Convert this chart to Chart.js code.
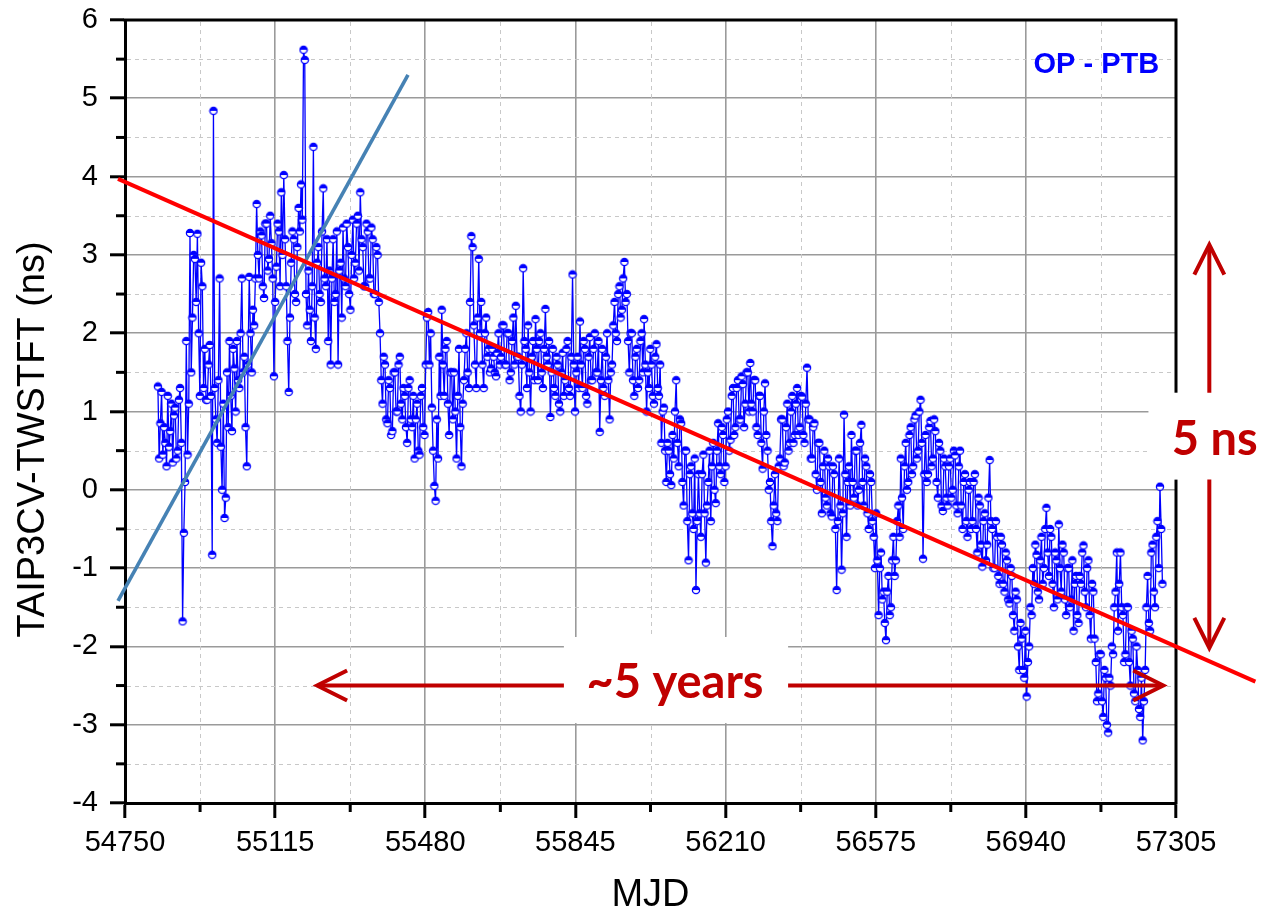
<!DOCTYPE html>
<html>
<head>
<meta charset="utf-8">
<script src="https://cdn.jsdelivr.net/npm/chart.js@4.4.1/dist/chart.umd.min.js"></script>
<style>
  html,body{margin:0;padding:0;background:#fff;}
  #wrap{width:1263px;height:919px;position:relative;}
</style>
</head>
<body>
<div id="wrap"><canvas id="c"></canvas></div>
<script>
// ---------------- data ----------------
const mjd = [
54830,54833,54836,54839,54842,54845,54848,54851,54854,54857,54860,54863,54866,54869,54872,54875,54878,54881,54884,54887,
54890,54893,54896,54899,54902,54905,54908,54911,54914,54917,54920,54923,54926,54929,54932,54935,54938,54941,54944,54947,
54950,54953,54956,54959,54962,54965,54968,54971,54974,54977,54980,54983,54986,54989,54992,54995,54998,55001,55004,55007,
55010,55013,55016,55019,55022,55025,55028,55031,55034,55037,55040,55043,55046,55049,55052,55055,55058,55061,55064,55067,
55070,55073,55076,55079,55082,55085,55088,55091,55094,55097,55100,55103,55106,55109,55112,55115,55118,55121,55124,55127,
55130,55133,55136,55139,55142,55145,55148,55151,55154,55157,55160,55163,55166,55169,55172,55175,55178,55181,55184,55187,
55190,55193,55196,55199,55202,55205,55208,55211,55214,55217,55220,55223,55226,55229,55232,55235,55238,55241,55244,55247,
55250,55253,55256,55259,55262,55265,55268,55271,55274,55277,55280,55283,55286,55289,55292,55295,55298,55301,55304,55307,
55310,55313,55316,55319,55322,55325,55328,55331,55334,55337,55340,55343,55346,55349,55352,55355,55358,55361,55364,55367,
55370,55373,55376,55379,55382,55385,55388,55391,55394,55397,55400,55403,55406,55409,55412,55415,55418,55421,55424,55427,
55430,55433,55436,55439,55442,55445,55448,55451,55454,55457,55460,55463,55466,55469,55472,55475,55478,55481,55484,55487,
55490,55493,55496,55499,55502,55505,55508,55511,55514,55517,55520,55523,55526,55529,55532,55535,55538,55541,55544,55547,
55550,55553,55556,55559,55562,55565,55568,55571,55574,55577,55580,55583,55586,55589,55592,55595,55598,55601,55604,55607,
55610,55613,55616,55619,55622,55625,55628,55631,55634,55637,55640,55643,55646,55649,55652,55655,55658,55661,55664,55667,
55670,55673,55676,55679,55682,55685,55688,55691,55694,55697,55700,55703,55706,55709,55712,55715,55718,55721,55724,55727,
55730,55733,55736,55739,55742,55745,55748,55751,55754,55757,55760,55763,55766,55769,55772,55775,55778,55781,55784,55787,
55790,55793,55796,55799,55802,55805,55808,55811,55814,55817,55820,55823,55826,55829,55832,55835,55838,55841,55844,55847,
55850,55853,55856,55859,55862,55865,55868,55871,55874,55877,55880,55883,55886,55889,55892,55895,55898,55901,55904,55907,
55910,55913,55916,55919,55922,55925,55928,55931,55934,55937,55940,55943,55946,55949,55952,55955,55958,55961,55964,55967,
55970,55973,55976,55979,55982,55985,55988,55991,55994,55997,56000,56003,56006,56009,56012,56015,56018,56021,56024,56027,
56030,56033,56036,56039,56042,56045,56048,56051,56054,56057,56060,56063,56066,56069,56072,56075,56078,56081,56084,56087,
56090,56093,56096,56099,56102,56105,56108,56111,56114,56117,56120,56123,56126,56129,56132,56135,56138,56141,56144,56147,
56150,56153,56156,56159,56162,56165,56168,56171,56174,56177,56180,56183,56186,56189,56192,56195,56198,56201,56204,56207,
56210,56213,56216,56219,56222,56225,56228,56231,56234,56237,56240,56243,56246,56249,56252,56255,56258,56261,56264,56267,
56270,56273,56276,56279,56282,56285,56288,56291,56294,56297,56300,56303,56306,56309,56312,56315,56318,56321,56324,56327,
56330,56333,56336,56339,56342,56345,56348,56351,56354,56357,56360,56363,56366,56369,56372,56375,56378,56381,56384,56387,
56390,56393,56396,56399,56402,56405,56408,56411,56414,56417,56420,56423,56426,56429,56432,56435,56438,56441,56444,56447,
56450,56453,56456,56459,56462,56465,56468,56471,56474,56477,56480,56483,56486,56489,56492,56495,56498,56501,56504,56507,
56510,56513,56516,56519,56522,56525,56528,56531,56534,56537,56540,56543,56546,56549,56552,56555,56558,56561,56564,56567,
56570,56573,56576,56579,56582,56585,56588,56591,56594,56597,56600,56603,56606,56609,56612,56615,56618,56621,56624,56627,
56630,56633,56636,56639,56642,56645,56648,56651,56654,56657,56660,56663,56666,56669,56672,56675,56678,56681,56684,56687,
56690,56693,56696,56699,56702,56705,56708,56711,56714,56717,56720,56723,56726,56729,56732,56735,56738,56741,56744,56747,
56750,56753,56756,56759,56762,56765,56768,56771,56774,56777,56780,56783,56786,56789,56792,56795,56798,56801,56804,56807,
56810,56813,56816,56819,56822,56825,56828,56831,56834,56837,56840,56843,56846,56849,56852,56855,56858,56861,56864,56867,
56870,56873,56876,56879,56882,56885,56888,56891,56894,56897,56900,56903,56906,56909,56912,56915,56918,56921,56924,56927,
56930,56933,56936,56939,56942,56945,56948,56951,56954,56957,56960,56963,56966,56969,56972,56975,56978,56981,56984,56987,
56990,56993,56996,56999,57002,57005,57008,57011,57014,57017,57020,57023,57026,57029,57032,57035,57038,57041,57044,57047,
57050,57053,57056,57059,57062,57065,57068,57071,57074,57077,57080,57083,57086,57089,57092,57095,57098,57101,57104,57107,
57110,57113,57116,57119,57122,57125,57128,57131,57134,57137,57140,57143,57146,57149,57152,57155,57158,57161,57164,57167,
57170,57173,57176,57179,57182,57185,57188,57191,57194,57197,57200,57203,57206,57209,57212,57215,57218,57221,57224,57227,
57230,57233,57236,57239,57242,57245,57248,57251,57254,57257,57260,57263,57266,57269,57272
];
const diffNs = [
1.32,0.40,0.85,1.25,0.45,0.80,0.60,0.30,1.20,0.55,0.75,1.10,0.35,0.95,1.05,0.40,0.50,1.15,1.30,0.60,
-1.68,-0.55,0.10,1.90,0.45,1.10,3.28,1.50,2.20,3.00,2.95,2.40,3.27,2.00,1.20,2.90,2.60,1.30,1.80,1.15,
1.15,1.60,1.85,1.20,-0.83,4.84,1.30,0.90,0.60,1.40,2.70,0.55,0.00,1.10,-0.36,-0.10,1.50,0.80,1.90,1.20,
0.75,1.80,1.55,1.00,1.90,1.40,1.30,2.00,2.70,1.50,1.70,0.80,0.30,1.60,2.72,2.00,1.50,2.30,2.10,2.70,
3.65,3.00,2.70,3.30,3.25,2.60,2.45,3.40,3.40,2.80,2.95,3.50,3.15,2.70,1.45,2.40,2.85,3.40,3.30,2.60,
3.80,3.00,4.02,3.20,2.60,1.90,1.25,2.20,2.90,3.30,3.20,2.50,2.40,3.10,3.60,3.30,3.90,3.45,5.62,5.49,
2.50,2.10,2.80,2.30,1.90,2.60,4.38,2.20,1.80,2.90,3.10,2.50,2.40,3.30,3.85,2.70,2.60,3.20,1.90,2.80,
1.60,2.70,3.20,2.40,2.50,3.30,1.60,2.80,2.90,2.20,3.35,2.70,2.60,3.40,3.10,2.50,2.30,3.00,3.45,2.70,
2.90,3.40,3.50,2.80,3.80,3.20,3.10,2.60,2.60,3.40,3.30,2.70,2.70,3.35,3.20,2.50,2.50,3.10,3.00,2.40,
2.00,1.40,1.10,1.70,1.60,0.90,0.85,1.40,1.30,0.70,0.75,1.50,1.50,1.00,1.00,1.60,1.70,1.10,0.90,1.30,
1.20,0.80,0.60,1.30,1.40,0.90,0.80,1.20,0.40,0.90,1.10,0.50,0.45,1.20,1.30,0.80,0.70,1.60,2.20,2.27,
1.60,2.00,1.05,0.50,0.05,-0.14,0.90,0.40,1.70,1.20,2.30,1.60,1.20,1.80,1.90,1.10,0.70,1.50,1.50,0.90,
1.50,1.00,0.40,1.20,1.80,0.80,0.30,1.10,1.40,1.80,2.00,1.50,1.30,2.40,3.24,3.10,2.10,1.60,1.30,2.20,
2.95,2.00,2.40,1.60,1.30,2.00,2.20,1.70,1.80,1.50,1.55,1.80,1.70,1.50,1.45,1.75,2.00,1.60,1.70,2.10,
2.10,1.60,1.60,2.00,2.00,1.40,1.50,1.90,2.20,1.60,2.35,1.70,1.70,1.20,1.00,1.60,2.83,1.90,1.80,1.30,
2.10,1.50,1.00,1.70,1.90,1.40,2.18,1.80,1.40,1.90,2.00,1.50,1.30,1.80,2.31,1.70,1.60,1.90,0.93,1.50,
1.80,1.30,1.20,1.70,1.60,1.10,1.00,1.50,1.75,1.20,1.40,1.80,1.90,1.30,1.20,1.70,2.75,1.60,1.00,1.50,
1.70,1.30,2.15,1.60,1.30,1.90,1.80,1.20,1.10,1.70,1.95,1.40,1.40,1.80,2.00,1.50,1.50,1.90,0.74,1.40,
1.80,1.30,1.20,1.70,2.00,1.40,0.90,1.50,1.60,2.10,2.40,2.00,1.90,2.50,2.60,2.20,2.30,2.70,2.91,2.40,
2.50,1.90,1.50,2.00,2.00,1.40,1.20,1.70,1.80,1.30,1.40,1.90,2.00,1.50,2.18,1.60,1.00,1.50,1.30,1.80,
1.60,1.20,1.10,1.70,1.86,1.30,1.20,1.60,0.60,1.00,1.05,0.50,0.10,0.60,0.50,0.20,0.06,0.70,0.40,1.00,
1.40,0.60,0.30,0.90,0.85,0.10,-0.20,0.50,0.50,-0.40,-0.90,0.20,0.30,-0.30,-0.50,0.40,-1.28,-0.40,0.20,-0.30,
-0.60,0.20,0.45,-0.30,-0.93,-0.20,0.10,0.50,-0.40,0.30,0.60,0.00,-0.17,0.50,0.85,0.30,0.20,0.80,0.70,0.10,
0.30,0.90,1.00,0.50,0.64,1.20,1.30,0.70,0.80,1.30,1.40,0.90,0.90,1.45,1.35,0.80,1.10,1.50,1.50,1.00,
1.62,1.10,1.00,1.40,1.40,0.80,0.70,1.20,1.20,0.60,0.27,1.00,1.36,0.70,0.50,0.00,0.10,-0.40,-0.72,-0.20,
0.20,-0.30,-0.40,0.30,0.40,0.90,0.90,0.30,0.35,0.80,1.10,0.50,0.60,1.00,1.20,0.60,0.70,1.10,1.30,0.70,
0.80,1.20,1.19,0.70,0.60,1.10,1.56,0.90,0.90,0.40,0.40,0.80,0.85,0.20,0.00,0.60,0.60,0.10,-0.30,0.30,
0.50,-0.10,-0.20,0.40,0.30,-0.30,-0.34,0.30,0.20,-0.50,-1.28,-0.40,0.40,-0.20,-1.02,-0.30,0.96,0.20,-0.60,0.10,
0.30,-0.20,0.70,0.10,-0.10,0.50,0.50,-0.20,0.00,0.60,0.83,0.10,-0.20,0.40,0.30,-0.30,-0.50,0.20,0.10,-0.40,
-0.60,-1.00,-0.30,-0.90,-1.60,-1.00,-0.80,-1.40,-1.30,-1.70,-1.92,-1.30,-1.10,-1.60,-1.50,-0.90,-0.60,-1.10,-0.90,-0.40,
-0.20,-0.60,0.40,-0.10,-0.50,0.30,0.60,0.00,0.10,0.70,0.80,0.20,0.30,0.90,0.95,0.40,0.50,1.00,1.15,0.60,
-0.88,0.20,0.70,0.10,0.20,0.80,0.88,0.30,0.40,0.90,0.75,0.10,-0.10,0.60,0.50,-0.20,-0.27,0.40,0.30,-0.10,
-0.20,0.30,0.40,-0.10,0.00,0.50,0.44,-0.20,-0.30,0.30,0.50,-0.20,-0.50,0.10,0.20,-0.40,-0.60,0.00,0.10,-0.50,
-0.40,0.10,0.20,-0.50,-0.80,-0.10,-0.20,-0.70,-0.98,-0.40,-0.30,-0.90,-0.70,-0.10,0.38,-0.40,-0.50,-1.00,-1.00,-0.40,
-0.60,-1.10,-1.20,-0.60,-0.70,-1.20,-1.30,-0.80,-0.90,-1.40,-1.45,-1.00,-1.10,-1.60,-1.80,-1.30,-1.40,-2.00,-2.30,-1.70,
-1.90,-2.30,-2.40,-1.80,-2.64,-2.20,-2.00,-1.50,-1.60,-1.00,-1.20,-0.70,-0.83,-1.30,-1.40,-0.90,-0.60,-1.20,-1.00,-0.50,
-0.23,-0.80,-1.10,-0.50,-0.60,-1.20,-1.50,-0.80,-0.90,-1.40,-0.44,-1.00,-1.30,-0.70,-0.80,-1.40,-1.60,-1.00,-1.00,-1.50,
-1.40,-0.90,-1.80,-1.20,-1.10,-1.60,-1.70,-1.10,-1.20,-0.80,-0.71,-1.30,-1.50,-1.00,-0.90,-1.60,-1.90,-1.20,-1.30,-1.90,
-2.20,-2.70,-2.60,-2.10,-2.10,-2.70,-2.90,-2.30,-2.40,-3.00,-3.10,-2.40,-2.50,-2.00,-2.10,-1.50,-1.30,-0.80,-1.80,-1.20,
-0.80,-1.50,-1.60,-2.20,-2.10,-1.50,-1.50,-2.20,-2.50,-1.80,-1.90,-2.60,-2.70,-2.00,-2.30,-2.80,-2.90,-2.40,-3.20,-2.70,
-2.30,-1.50,-1.10,-1.70,-1.80,-0.80,-0.70,-1.30,-1.50,-0.60,-0.40,-1.00,0.04,-0.50,-1.20
];
// long-term linear fit (red) and early short-term fit (steel blue)
const redFitX  = [54733, 57498];
const redFitY  = [3.97, -2.45];
const blueFitX = [54733, 55438];
const blueFitY = [-1.42, 5.30];
// axis ticks
const xMajorTicks = [54750,55115,55480,55845,56210,56575,56940,57305];
const xMinorTicks = [54932.5,55297.5,55662.5,56027.5,56392.5,56757.5,57122.5];
const yMajorTicks = [-4,-3,-2,-1,0,1,2,3,4,5,6];
const yMinorTicks = [-3.5,-2.5,-1.5,-0.5,0.5,1.5,2.5,3.5,4.5,5.5];
// texts
const xTitle = 'MJD';
const yTitle = 'TAIP3CV-TWSTFT (ns)';
const labelStation = 'OP - PTB';
const labelYears = '~5 years';
const labelNs = '5 ns';

// ---------------- marker ----------------
function makeMarker(){
  const c=document.createElement('canvas'); c.width=10; c.height=10;
  const g=c.getContext('2d');
  const r=3.6;
  g.beginPath(); g.arc(5,5,r,0,2*Math.PI); g.fillStyle='#ffffff'; g.fill();
  g.beginPath(); g.arc(5,5,r,Math.PI,2*Math.PI); g.closePath(); g.fillStyle='#0000ff'; g.fill();
  g.beginPath(); g.arc(5,5,r,0,2*Math.PI); g.strokeStyle='#0000ff'; g.lineWidth=1.3; g.stroke();
  return c;
}
const marker = makeMarker();

const AX_FONT = "'Liberation Sans', Arial, sans-serif";
const RED = '#c00000';

function arrowHead(ctx, tx, ty, dx, dy){
  const L=30, W=15;
  const bx=tx-dx*L, by=ty-dy*L;
  ctx.beginPath();
  ctx.moveTo(bx - dy*W, by + dx*W);
  ctx.lineTo(tx, ty);
  ctx.lineTo(bx + dy*W, by - dx*W);
  ctx.stroke();
}

const deco = {
  id:'deco',
  beforeDatasetsDraw(chart){
    const {ctx, chartArea:a, scales:{x,y}} = chart;
    ctx.save();
    ctx.strokeStyle='#c8c8c8'; ctx.lineWidth=1; ctx.setLineDash([4,4]);
    xMinorTicks.forEach(v=>{const p=Math.round(x.getPixelForValue(v))+0.5;
      ctx.beginPath(); ctx.moveTo(p,a.top+2); ctx.lineTo(p,a.bottom-2); ctx.stroke();});
    yMinorTicks.forEach(v=>{const p=Math.round(y.getPixelForValue(v))+0.5;
      ctx.beginPath(); ctx.moveTo(a.left+2,p); ctx.lineTo(a.right-2,p); ctx.stroke();});
    ctx.setLineDash([]);
    ctx.strokeStyle='#000'; ctx.lineWidth=3;
    xMinorTicks.forEach(v=>{const p=x.getPixelForValue(v);
      ctx.beginPath(); ctx.moveTo(p,a.bottom); ctx.lineTo(p,a.bottom+9); ctx.stroke();});
    yMinorTicks.forEach(v=>{const p=y.getPixelForValue(v);
      ctx.beginPath(); ctx.moveTo(a.left,p); ctx.lineTo(a.left-9,p); ctx.stroke();});
    ctx.beginPath(); ctx.moveTo(a.left-1.5,a.top); ctx.lineTo(a.right,a.top); ctx.lineTo(a.right,a.bottom+1.5); ctx.stroke();
    ctx.fillStyle='#fff';
    const bx1=x.getPixelForValue(55817), bx2=x.getPixelForValue(56362);
    const by1=y.getPixelForValue(-1.88), by2=y.getPixelForValue(-2.98);
    ctx.fillRect(bx1,by1,bx2-bx1,by2-by1);
    const cx1=x.getPixelForValue(57238);
    const cy1=y.getPixelForValue(1.24), cy2=y.getPixelForValue(0.13);
    ctx.fillRect(cx1,cy1,chart.width-cx1,cy2-cy1);
    // y axis title
    ctx.save();
    ctx.translate(34, (y.getPixelForValue(6)+y.getPixelForValue(-4))/2 + 28);
    ctx.rotate(-Math.PI/2);
    ctx.fillStyle='#000'; ctx.font='38px '+AX_FONT; ctx.textAlign='center'; ctx.textBaseline='middle';
    ctx.fillText(yTitle,0,0);
    ctx.restore();
    ctx.restore();
  },
  afterDraw(chart){
    const {ctx, scales:{x,y}} = chart;
    ctx.save();
    ctx.strokeStyle=RED; ctx.lineWidth=4; ctx.lineCap='butt';
    const hy=y.getPixelForValue(-2.5);
    const hx1=x.getPixelForValue(55217), hx2=x.getPixelForValue(57274);
    const gx1=x.getPixelForValue(55817), gx2=x.getPixelForValue(56362);
    ctx.beginPath(); ctx.moveTo(hx1+2,hy); ctx.lineTo(gx1,hy); ctx.moveTo(gx2,hy); ctx.lineTo(hx2-2,hy); ctx.stroke();
    arrowHead(ctx,hx1,hy,-1,0); arrowHead(ctx,hx2,hy,1,0);
    const vx=x.getPixelForValue(57386);
    const vy1=y.getPixelForValue(3.13), vy2=y.getPixelForValue(-2.02);
    const gy1=y.getPixelForValue(1.24), gy2=y.getPixelForValue(0.13);
    ctx.beginPath(); ctx.moveTo(vx,vy1+2); ctx.lineTo(vx,gy1); ctx.moveTo(vx,gy2); ctx.lineTo(vx,vy2-2); ctx.stroke();
    arrowHead(ctx,vx,vy1,0,-1); arrowHead(ctx,vx,vy2,0,1);
    ctx.fillStyle=RED; ctx.font="bold 47px Lato, 'Open Sans', sans-serif";
    ctx.textAlign='center'; ctx.textBaseline='alphabetic';
    ctx.fillText(labelYears, x.getPixelForValue(56087), y.getPixelForValue(-2.66));
    ctx.fillText(labelNs, x.getPixelForValue(57399), y.getPixelForValue(0.45));
    ctx.fillStyle='#0000ff'; ctx.font="bold 29px "+AX_FONT;
    ctx.textAlign='right'; ctx.textBaseline='alphabetic';
    ctx.fillText(labelStation, x.getPixelForValue(57264), y.getPixelForValue(5.32));
    ctx.restore();
  }
};

new Chart(document.getElementById('c'), {
  type:'line',
  data:{
    datasets:[
      {label:'fit', data:redFitX.map((v,i)=>({x:v,y:redFitY[i]})), borderColor:'#ff0000', borderWidth:4,
        pointRadius:0, clip:false, order:0},
      {label:'fit2', data:blueFitX.map((v,i)=>({x:v,y:blueFitY[i]})), borderColor:'#4682b4', borderWidth:3.6,
        pointRadius:0, clip:false, order:1},
      {label:labelStation, data:mjd.map((v,i)=>({x:v,y:diffNs[i]})), borderColor:'#0000ff', borderWidth:1.3,
        pointStyle:marker, pointRadius:3.6, tension:0, order:2}
    ]
  },
  options:{
    responsive:true, maintainAspectRatio:false, animation:false,
    layout:{padding:{left:0,right:87,top:20,bottom:0}},
    plugins:{legend:{display:false}, tooltip:{enabled:false}},
    scales:{
      x:{type:'linear', min:54750, max:57305,
        afterBuildTicks(s){ s.ticks = xMajorTicks.map(v=>({value:v})); },
        afterFit(s){ s.height=116; s.paddingLeft=0; s.paddingRight=0; },
        ticks:{autoSkip:false, maxRotation:0, padding:8, color:'#000', font:{family:AX_FONT,size:29},
          callback:v=>String(v)},
        grid:{color:'#9a9a9a', lineWidth:1.6, drawTicks:true, tickLength:15, tickColor:'#000', tickWidth:3},
        border:{display:true, color:'#000', width:3},
        title:{display:true, text:xTitle, color:'#000', font:{family:AX_FONT,size:38}, padding:{top:0,bottom:1}}
      },
      y:{type:'linear', min:-4, max:6,
        afterBuildTicks(s){ s.ticks = yMajorTicks.map(v=>({value:v})); },
        afterFit(s){ s.width=125; s.paddingTop=0; s.paddingBottom=0; },
        ticks:{autoSkip:false, padding:12, color:'#000', font:{family:AX_FONT,size:29},
          callback:v=>String(v)},
        grid:{color:'#9a9a9a', lineWidth:1.6, drawTicks:true, tickLength:15, tickColor:'#000', tickWidth:3},
        border:{display:true, color:'#000', width:3}
      }
    }
  },
  plugins:[deco]
});
</script>
</body>
</html>
